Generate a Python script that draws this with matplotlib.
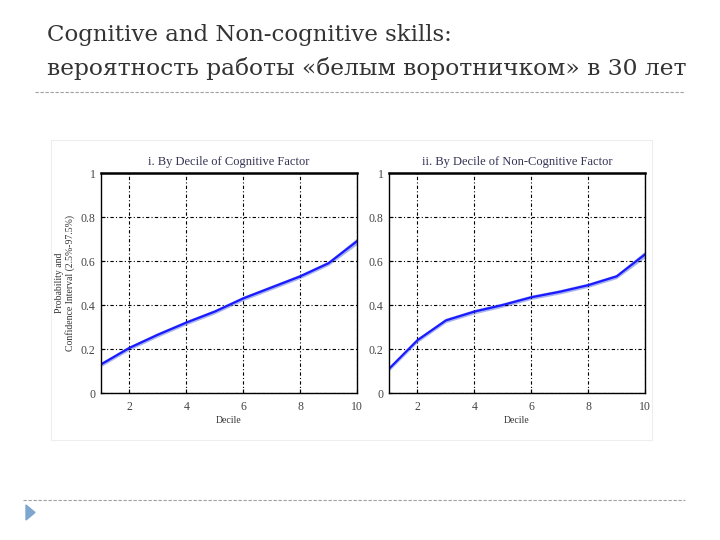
import numpy as np
import matplotlib.pyplot as plt
from matplotlib.patches import Polygon, Rectangle
from matplotlib.lines import Line2D

decile = [1, 2, 3, 4, 5, 6, 7, 8, 9, 10]
cog_prob = [0.13, 0.205, 0.265, 0.32, 0.37, 0.43, 0.48, 0.53, 0.59, 0.69]
cog_lo = [0.12, 0.195, 0.255, 0.31, 0.36, 0.42, 0.47, 0.52, 0.58, 0.675]
cog_hi = [0.14, 0.215, 0.275, 0.33, 0.38, 0.44, 0.49, 0.54, 0.60, 0.705]
noncog_prob = [0.11, 0.24, 0.33, 0.37, 0.40, 0.435, 0.46, 0.49, 0.53, 0.63]
noncog_lo = [0.10, 0.23, 0.32, 0.36, 0.39, 0.425, 0.45, 0.48, 0.52, 0.615]
noncog_hi = [0.12, 0.25, 0.34, 0.38, 0.41, 0.445, 0.47, 0.50, 0.54, 0.645]

xticks = [2, 4, 6, 8, 10]
yticks = [0, 0.2, 0.4, 0.6, 0.8, 1]
ytick_labels = ["0", "0.2", "0.4", "0.6", "0.8", "1"]

title1 = "Cognitive and Non-cognitive skills:"
title2 = "вероятность работы «белым воротничком» в 30 лет"
panel_titles = ["i. By Decile of Cognitive Factor", "ii. By Decile of Non-Cognitive Factor"]
ylabel = "Probability and\nConfidence Interval (2.5%-97.5%)"

W, H = 720, 540
fig = plt.figure(figsize=(7.2, 5.4), dpi=100)
fig.patch.set_facecolor("white")

# slide title
fig.text(47 / W, 1 - 35 / H, title1, fontsize=16.5, family="DejaVu Serif",
         color="#333333", va="center", ha="left")
fig.text(47 / W, 1 - 69 / H, title2, fontsize=16.8, family="DejaVu Serif",
         color="#333333", va="center", ha="left")

# dashed separators
fig.add_artist(Line2D([35 / W, 685 / W], [1 - 92 / H, 1 - 92 / H], color="#a0a0a0",
                      lw=0.8, ls=(0, (3, 1.5))))
fig.add_artist(Line2D([23 / W, 685 / W], [1 - 500 / H, 1 - 500 / H], color="#a0a0a0",
                      lw=0.8, ls=(0, (3, 1.5))))
fig.add_artist(Polygon([[26 / W, 1 - 505 / H], [26 / W, 1 - 520 / H], [35 / W, 1 - 512.5 / H]],
                       closed=True, color="#7fa6cf", transform=fig.transFigure))
# faint frame of the pasted picture
fig.add_artist(Rectangle((51 / W, 1 - 440 / H), 601 / W, 300 / H, fill=False,
                         edgecolor="#eeeeee", lw=0.8, transform=fig.transFigure,
                         zorder=-1))

panels = [
    (101, panel_titles[0], cog_prob, cog_lo, cog_hi),
    (389, panel_titles[1], noncog_prob, noncog_lo, noncog_hi),
]
for i, (left, ttl, p, lo, hi) in enumerate(panels):
    ax = fig.add_axes([left / W, 1 - 393 / H, 256 / W, 220 / H])
    ax.fill_between(decile, lo, hi, color="#a8b4f0", lw=0)
    ax.plot(decile, p, color="#1a1aff", lw=1.6)
    ax.set_xlim(1, 10)
    ax.set_ylim(0, 1)
    ax.set_xticks(xticks)
    ax.set_yticks(yticks)
    ax.set_yticklabels(ytick_labels)
    ax.grid(True, color="black", ls=(0, (3, 2, 1, 2)), lw=0.8)
    ax.tick_params(direction="in", length=3, labelsize=8.5, pad=4)
    ax.tick_params(axis="x", pad=6)
    for lbl in ax.get_xticklabels() + ax.get_yticklabels():
        lbl.set_family("Liberation Serif")
        lbl.set_color("#444444")
    for s in ax.spines.values():
        s.set_linewidth(1.0)
    ax.spines["top"].set_linewidth(1.8)
    ax.set_title(ttl, fontsize=9, family="Liberation Serif", color="#333355", pad=6)
    ax.set_xlabel("Decile", fontsize=7, family="Liberation Serif", color="#333333", labelpad=2)
    if i == 0:
        ax.set_ylabel(ylabel, fontsize=7, family="Liberation Serif", color="#333333",
                      labelpad=4, linespacing=1.1)

plt.savefig("out.png", dpi=100)
